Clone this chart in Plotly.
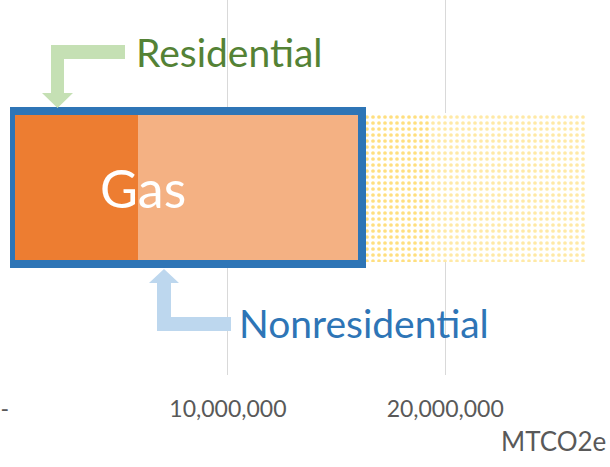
import plotly.graph_objects as go

# ---- data ----
category = ["Gas"]
segment_names = ["Residential", "Nonresidential", "Other A", "Other B"]
segment_values = [5_860_000, 10_300_000, 3_130_000, 7_220_000]
gas_total = [segment_values[0] + segment_values[1]]
tick_vals = [0, 10_000_000, 20_000_000]
tick_text = ["-\u00a0\u00a0", "10,000,000", "20,000,000"]
axis_title = "MTCO2e"

# ---- layout geometry ----
W, H = 610, 467
L, R, T, B = 10, 4, 0, 92
PW, PH = W - L - R, H - T - B
X_MAX = 27_400_000


def p(px, py):
    return (px - L) / PW, 1 - (py - T) / PH


def path(points):
    s = ""
    for i, (px, py) in enumerate(points):
        x, y = p(px, py)
        s += ("M" if i == 0 else "L") + f"{x:.5f},{y:.5f} "
    return s + "Z"


fig = go.Figure()

bases = [0]
for v in segment_values[:-1]:
    bases.append(bases[-1] + v)

styles = [
    dict(color="#ED7D31"),
    dict(color="#F4B183"),
    dict(color="white", pattern=dict(shape=".", fgcolor="#FFC000", bgcolor="white", size=6, solidity=0.3, fillmode="overlay")),
    dict(color="white", pattern=dict(shape=".", fgcolor="#FFD34D", bgcolor="white", size=6, solidity=0.3, fillmode="overlay")),
]
for name, val, base, st in zip(segment_names, segment_values, bases, styles):
    fig.add_trace(go.Bar(
        y=[0], x=[val], base=[base], orientation="h", name=name,
        width=0.395, marker=dict(line=dict(width=0), **st), showlegend=False,
    ))

# blue outline around the gas bar
fig.add_trace(go.Bar(
    y=[0], x=gas_total, base=[0], orientation="h", name="Gas",
    width=0.41, marker=dict(color="rgba(0,0,0,0)", line=dict(color="#2E75B6", width=8)),
    showlegend=False,
))

font = "Lato"
shapes = [
    dict(type="path", xref="paper", yref="paper", layer="above", line=dict(width=0),
         fillcolor="#C5E0B4",
         path=path([(125, 45), (51, 45), (51, 93), (42, 93), (57.5, 108), (73, 93), (64, 93), (64, 59), (125, 59)])),
    dict(type="path", xref="paper", yref="paper", layer="above", line=dict(width=0),
         fillcolor="#BDD7EE",
         path=path([(231, 317), (171, 317), (171, 283), (179, 283), (164, 269), (149, 283), (157, 283), (157, 331), (231, 331)])),
]

rx, ry = p(134, 52)
nx, ny = p(237, 322.5)
mx, my = p(608, 441)
annotations = [
    dict(text="Residential", x=rx, y=ry, xref="paper", yref="paper", xanchor="left", yanchor="middle",
         showarrow=False, font=dict(family=font, size=39, color="#548235")),
    dict(text="Nonresidential", x=nx, y=ny, xref="paper", yref="paper", xanchor="left", yanchor="middle",
         showarrow=False, font=dict(family=font, size=39, color="#2E75B6")),
    dict(text="Gas", x=6_100_000, y=0, xref="x", yref="y", xanchor="center", yanchor="middle",
         showarrow=False, font=dict(family=font, size=52, color="white")),
    dict(text=axis_title, x=mx, y=my, xref="paper", yref="paper", xanchor="right", yanchor="middle",
         showarrow=False, font=dict(family=font, size=26, color="#595959")),
]

fig.update_layout(
    width=W, height=H, margin=dict(l=L, r=R, t=T, b=B),
    paper_bgcolor="white", plot_bgcolor="white",
    barmode="overlay", bargap=0,
    shapes=shapes, annotations=annotations,
    xaxis=dict(range=[-30_000, X_MAX], tickvals=tick_vals, ticktext=tick_text,
               showgrid=True, gridcolor="#D9D9D9", gridwidth=1, zeroline=False, showline=False,
               ticks="", ticklabelstandoff=18,
               tickfont=dict(family=font, size=23, color="#595959")),
    yaxis=dict(range=[-0.5, 0.5], visible=False, showgrid=False, zeroline=False),
    font=dict(family=font),
)

fig.write_html("out.html", config={"displayModeBar": False},
               post_script="document.body.style.margin='0px';document.body.style.padding='0px';")
